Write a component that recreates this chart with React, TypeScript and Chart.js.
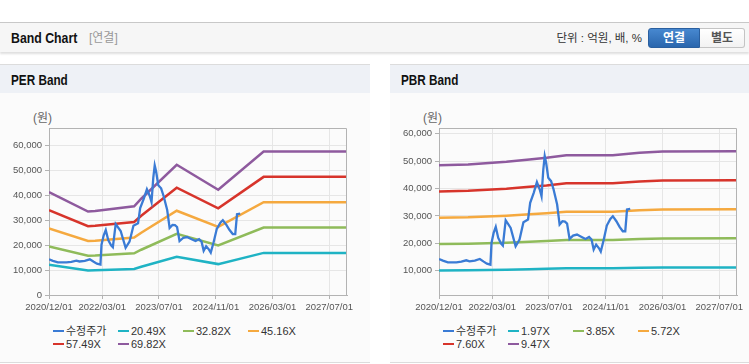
import React, { useEffect, useRef } from 'react';
import { Chart, registerables } from 'chart.js';

Chart.register(...registerables);

const FONT = "'Liberation Sans', Arial, 'Noto Sans CJK KR', sans-serif";

// ---- x axis (months since 2020/12/01) ----
const xTickMonths = [0, 15, 31, 47, 63, 79];
const xTickLabels = ['2020/12/01', '2022/03/01', '2023/07/01', '2024/11/01', '2026/03/01', '2027/07/01'];
const xMaxMonth = 84;

// ---- adjusted price (수정주가) ----
const priceMonths = [
  0, 1.1, 2.5, 4.9, 6.3, 7.7, 8.6, 10.1, 11.5, 12.6, 13.5, 14.5, 14.8, 15.4, 16.0, 16.7, 17.5, 18.0, 18.8,
  20.2, 21.6, 22.7, 23.8, 25.1, 25.7, 26.7, 27.6, 28.4, 28.9, 29.4, 29.8, 30.2, 30.8, 31.6, 32.3, 33.3, 34.0,
  34.8, 35.5, 36.1, 36.8, 37.8, 38.9, 40.2, 41.3, 42.3, 43.0, 43.6, 44.3, 45.1, 45.6, 46.4, 47.3, 48.3, 49.0,
  50.0, 50.9, 51.8, 52.5, 53.0, 53.9,
];
const priceValues = [
  14260, 13650, 13040, 13040, 13290, 13770, 13410, 13650, 14260, 13290, 12550, 12190, 20120, 23780, 25970, 21950,
  19870, 19140, 28410, 25610, 18900, 21340, 27680, 28660, 34750, 38410, 42310, 39620, 37190, 46940, 51840, 49400,
  43910, 42690, 39620, 34150, 26830, 28050, 27930, 27200, 21590, 22810, 23170, 22320, 21590, 22320, 21340, 17680,
  19510, 18170, 16950, 21100, 26460, 28900, 29880, 28050, 25980, 24380, 24380, 32310, 32560,
];

// ---- PER band ----
const perLabels = ['수정주가', '20.49X', '32.82X', '45.16X', '57.49X', '69.82X'];
const perBandMonths = [0, 11, 13, 24, 26, 36, 47.7, 60.5, 84];
const perBand2049 = [12090, 9800, 9860, 10420, 11300, 15290, 12360, 16850, 16850];
const perBand3282 = [19370, 15700, 15790, 16690, 18100, 24490, 19790, 26980, 26980];
const perBand4516 = [26650, 21600, 21730, 22960, 24900, 33700, 27230, 37130, 37130];
const perBand5749 = [33930, 27500, 27660, 29230, 31700, 42900, 34670, 47260, 47260];
const perBand6982 = [41200, 33400, 33600, 35500, 38500, 52100, 42100, 57400, 57400];
const perYTicks = [0, 10000, 20000, 30000, 40000, 50000, 60000];

// ---- PBR band ----
const pbrLabels = ['수정주가', '1.97X', '3.85X', '5.72X', '7.60X', '9.47X'];
const pbrBandMonths = [0, 8.2, 19, 25.5, 30.3, 35.9, 49, 56.5, 63, 84];
const pbrBand197 = [10090, 10150, 10350, 10530, 10660, 10860, 10860, 11040, 11140, 11160];
const pbrBand385 = [19730, 19830, 20230, 20570, 20830, 21210, 21210, 21570, 21760, 21810];
const pbrBand572 = [29310, 29460, 30060, 30560, 30940, 31520, 31520, 32040, 32340, 32400];
const pbrBand760 = [38940, 39140, 39940, 40610, 41110, 41880, 41880, 42580, 42960, 43050];
const pbrBand947 = [48520, 48770, 49760, 50600, 51220, 52180, 52180, 53050, 53530, 53640];
const pbrYTicks = [10000, 20000, 30000, 40000, 50000, 60000];

const seriesColors = ['#3a7bd5', '#1fb3c4', '#8fbb5a', '#f5a93f', '#d7342b', '#8e5a9e'];

const framePlugin = {
  id: 'frame',
  afterDatasetsDraw(chart: any) {
    const { ctx, chartArea: a } = chart;
    ctx.save();
    ctx.strokeStyle = '#b3b3b3';
    ctx.lineWidth = 1;
    ctx.beginPath();
    ctx.moveTo(Math.round(a.left), Math.round(a.top) + 0.5);
    ctx.lineTo(Math.round(a.right) - 0.5, Math.round(a.top) + 0.5);
    ctx.lineTo(Math.round(a.right) - 0.5, Math.round(a.bottom));
    ctx.stroke();
    ctx.restore();
  },
};

type BandProps = {
  bandMonths: number[];
  bands: number[][];
  labels: string[];
  yMin: number;
  yMax: number;
  yTicks: number[];
  width: number;
  padRight: number;
};

function BandCanvas({ bandMonths, bands, labels, yMin, yMax, yTicks, width, padRight }: BandProps) {
  const ref = useRef<HTMLCanvasElement | null>(null);
  useEffect(() => {
    if (!ref.current) return;
    const datasets: any[] = [
      {
        label: labels[0],
        data: priceMonths.map((m, i) => ({ x: m, y: priceValues[i] })),
        borderColor: seriesColors[0],
        borderWidth: 2.3,
      },
      ...bands.map((vals, bi) => ({
        label: labels[bi + 1],
        data: bandMonths.map((m, i) => ({ x: m, y: vals[i] })),
        borderColor: seriesColors[bi + 1],
        borderWidth: 2.5,
      })),
    ];
    const chart = new Chart(ref.current, {
      type: 'line',
      data: { datasets },
      plugins: [framePlugin],
      options: {
        responsive: false,
        animation: false,
        parsing: false as any,
        layout: { padding: { left: 0, right: padRight, top: 28, bottom: 0 } },
        elements: { point: { radius: 0 }, line: { tension: 0 } },
        plugins: { legend: { display: false }, tooltip: { enabled: false } },
        scales: {
          x: {
            type: 'linear',
            min: 0,
            max: xMaxMonth,
            afterBuildTicks: (s: any) => {
              s.ticks = xTickMonths.map((v) => ({ value: v }));
            },
            afterFit: (s: any) => {
              s.height = 25;
            },
            ticks: {
              autoSkip: false,
              maxRotation: 0,
              padding: 3,
              color: '#555',
              font: { size: 9.5, family: FONT },
              callback: (v: any) => {
                const i = xTickMonths.indexOf(Number(v));
                return i >= 0 ? xTickLabels[i] : '';
              },
            },
            grid: { color: '#e6e6e6', tickColor: '#b3b3b3', tickLength: 4 },
            border: { color: '#b3b3b3' },
          },
          y: {
            type: 'linear',
            min: yMin,
            max: yMax,
            afterBuildTicks: (s: any) => {
              s.ticks = yTicks.map((v) => ({ value: v }));
            },
            afterFit: (s: any) => {
              s.width = 49;
            },
            ticks: {
              padding: 3,
              color: '#555',
              font: { size: 9.5, family: FONT },
              callback: (v: any) => Number(v).toLocaleString('en-US'),
            },
            grid: { color: '#e6e6e6', tickColor: '#b3b3b3', tickLength: 4 },
            border: { color: '#b3b3b3' },
          },
        },
      } as any,
    });
    return () => chart.destroy();
  }, []);
  return <canvas ref={ref} width={width} height={220} style={{ width, height: 220, display: 'block' }} />;
}

function Legend({ labels }: { labels: string[] }) {
  return (
    <>
      {labels.map((lab, i) => {
        const x = 53 + (i % 4) * 65;
        const cy = i < 4 ? 331 : 343.5;
        return (
          <div key={lab} style={{ position: 'absolute', left: x, top: cy - 7, height: 14, whiteSpace: 'nowrap' }}>
            <div style={{ position: 'absolute', left: 0, top: 6, width: 11, height: 2, background: seriesColors[i] }} />
            <div
              style={{
                position: 'absolute',
                left: 13,
                top: 0,
                lineHeight: '14px',
                fontSize: 11,
                fontFamily: FONT,
                color: '#333',
              }}
            >
              {lab}
            </div>
          </div>
        );
      })}
    </>
  );
}

function Panel(props: {
  left: number;
  width: number;
  title: string;
  labels: string[];
  bandMonths: number[];
  bands: number[][];
  yMin: number;
  yMax: number;
  yTicks: number[];
  padRight: number;
}) {
  const { left, width, title } = props;
  return (
    <div style={{ position: 'absolute', left, top: 64, width, height: 299 }}>
      <div
        style={{
          position: 'absolute',
          left: 0,
          top: 0,
          width,
          height: 28,
          background: '#eef1f6',
          borderTop: '1px solid #dcdcdc',
        }}
      >
        <div
          style={{
            position: 'absolute',
            left: 11,
            top: 0,
            lineHeight: '30px',
            fontSize: 14.5,
            fontWeight: 'bold',
            fontFamily: FONT,
            color: '#111',
            whiteSpace: 'nowrap',
            transform: 'scaleX(0.81)',
            transformOrigin: 'left center',
          }}
        >
          {title}
        </div>
      </div>
      <div
        style={{
          position: 'absolute',
          left: 0,
          top: 29,
          width,
          height: 269,
          background: '#fbfbfb',
          borderBottom: '1px solid #dcdcdc',
        }}
      />
      <div
        style={{
          position: 'absolute',
          left: 33,
          top: 47,
          lineHeight: '14px',
          fontSize: 12,
          fontFamily: FONT,
          color: '#666',
          whiteSpace: 'nowrap',
        }}
      >
        (원)
      </div>
      <div style={{ position: 'absolute', left: 0, top: 36 }}>
        <BandCanvas
          bandMonths={props.bandMonths}
          bands={props.bands}
          labels={props.labels}
          yMin={props.yMin}
          yMax={props.yMax}
          yTicks={props.yTicks}
          width={width}
          padRight={props.padRight}
        />
      </div>
      <div style={{ position: 'absolute', left: 0, top: -64 }}>
        <Legend labels={props.labels} />
      </div>
    </div>
  );
}

export default function App() {
  return (
    <div style={{ position: 'absolute', left: 0, top: 0, width: 749, height: 364, background: '#fff', overflow: 'hidden' }}>
      <div
        style={{
          position: 'absolute',
          left: 0,
          top: 22,
          width: 749,
          height: 29,
          background: '#f6f6f6',
          borderTop: '1px solid #c8c8c8',
          boxShadow: '0 2px 2px rgba(0,0,0,0.13)',
        }}
      >
        <div
          style={{
            position: 'absolute',
            left: 11,
            top: 0,
            lineHeight: '30px',
            fontSize: 15,
            fontWeight: 'bold',
            fontFamily: FONT,
            color: '#111',
            whiteSpace: 'nowrap',
            transform: 'scaleX(0.82)',
            transformOrigin: 'left center',
          }}
        >
          Band Chart
        </div>
        <div
          style={{
            position: 'absolute',
            left: 89,
            top: 0,
            lineHeight: '30px',
            fontSize: 12,
            fontFamily: FONT,
            color: '#999',
            whiteSpace: 'nowrap',
          }}
        >
          [연결]
        </div>
        <div
          style={{
            position: 'absolute',
            right: 749 - 642,
            top: 0,
            lineHeight: '30px',
            fontSize: 11.5,
            fontFamily: FONT,
            color: '#333',
            whiteSpace: 'nowrap',
          }}
        >
          단위 : 억원, 배, %
        </div>
        <div
          style={{
            position: 'absolute',
            left: 648,
            top: 5,
            width: 52,
            height: 20,
            boxSizing: 'border-box',
            background: 'linear-gradient(#4788d0, #2a66ad)',
            border: '1px solid #2a5f9f',
            borderRadius: '3px 0 0 3px',
            color: '#fff',
            fontWeight: 'bold',
            fontSize: 12,
            fontFamily: FONT,
            textAlign: 'center',
            lineHeight: '18px',
          }}
        >
          연결
        </div>
        <div
          style={{
            position: 'absolute',
            left: 700,
            top: 5,
            width: 45,
            height: 20,
            boxSizing: 'border-box',
            background: 'linear-gradient(#ffffff, #f2f2f2)',
            border: '1px solid #c4c4c4',
            borderLeft: 'none',
            borderRadius: '0 3px 3px 0',
            color: '#555',
            fontWeight: 'bold',
            fontSize: 12,
            fontFamily: FONT,
            textAlign: 'center',
            lineHeight: '18px',
          }}
        >
          별도
        </div>
      </div>

      <Panel
        left={0}
        width={370}
        title="PER Band"
        labels={perLabels}
        bandMonths={perBandMonths}
        bands={[perBand2049, perBand3282, perBand4516, perBand5749, perBand6982]}
        yMin={0}
        yMax={66800}
        yTicks={perYTicks}
        padRight={23}
      />
      <Panel
        left={390}
        width={359}
        title="PBR Band"
        labels={pbrLabels}
        bandMonths={pbrBandMonths}
        bands={[pbrBand197, pbrBand385, pbrBand572, pbrBand760, pbrBand947]}
        yMin={1100}
        yMax={62100}
        yTicks={pbrYTicks}
        padRight={12}
      />
    </div>
  );
}
